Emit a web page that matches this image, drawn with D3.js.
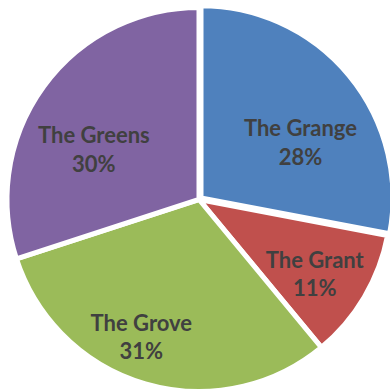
<!DOCTYPE html>
<html>
<head>
<meta charset="utf-8">
<script src="https://cdn.jsdelivr.net/npm/d3@7/dist/d3.min.js"></script>
<style>
  html, body { margin: 0; padding: 0; background: #ffffff; }
  svg { display: block; }
  text { font-family: Lato, "Noto Sans", sans-serif; font-weight: 700; fill: #404040; }
</style>
</head>
<body>
<svg id="chart" width="390" height="390"></svg>
<script>
// Share of members by site
const sites = ["The Grange", "The Grant", "The Grove", "The Greens"];
const shares = [28, 11, 31, 30];
const colors = ["#4f81bd", "#c0504d", "#9bbb59", "#8064a2"];

const data = sites.map((name, i) => ({ name, value: shares[i], color: colors[i] }));

const width = 390, height = 390;
const cx = 199, cy = 199.5;
const outerR = 192;
const gap = 5;          // white border between slices
const explode = { "The Grange": 2.6 };

// label anchors: angle in degrees clockwise from 12 o'clock, distance from centre
const labelSpots = {
  "The Grange": { angle: 61, dist: 116 },
  "The Grant":  { angle: 123, dist: 138 },
  "The Grove":  { angle: 202.6, dist: 150 },
  "The Greens": { angle: 295, dist: 116 }
};

const svg = d3.select("#chart");
const g = svg.append("g").attr("transform", `translate(${cx},${cy})`);

const pie = d3.pie().sort(null).value(d => d.value);
const arc = d3.arc().innerRadius(0).outerRadius(outerR);
const arcs = pie(data);

g.selectAll("path.slice")
  .data(arcs)
  .join("path")
  .attr("class", "slice")
  .attr("d", arc)
  .attr("fill", d => d.data.color)
  .attr("stroke", "#ffffff")
  .attr("stroke-width", gap)
  .attr("stroke-linejoin", "miter")
  .attr("transform", d => {
    const e = explode[d.data.name] || 0;
    const mid = (d.startAngle + d.endAngle) / 2;
    return `translate(${e * Math.sin(mid)},${-e * Math.cos(mid)})`;
  });

const labels = g.selectAll("text.lbl")
  .data(arcs)
  .join("text")
  .attr("class", "lbl")
  .attr("text-anchor", "middle")
  .attr("font-size", 22)
  .attr("transform", d => {
    const s = labelSpots[d.data.name];
    const a = s.angle * Math.PI / 180;
    return `translate(${s.dist * Math.sin(a)},${-s.dist * Math.cos(a)})`;
  });

labels.append("tspan")
  .attr("x", 0)
  .attr("y", -7)
  .text(d => d.data.name);

labels.append("tspan")
  .attr("x", 0)
  .attr("y", 21.5)
  .text(d => d.data.value + "%");
</script>
</body>
</html>
